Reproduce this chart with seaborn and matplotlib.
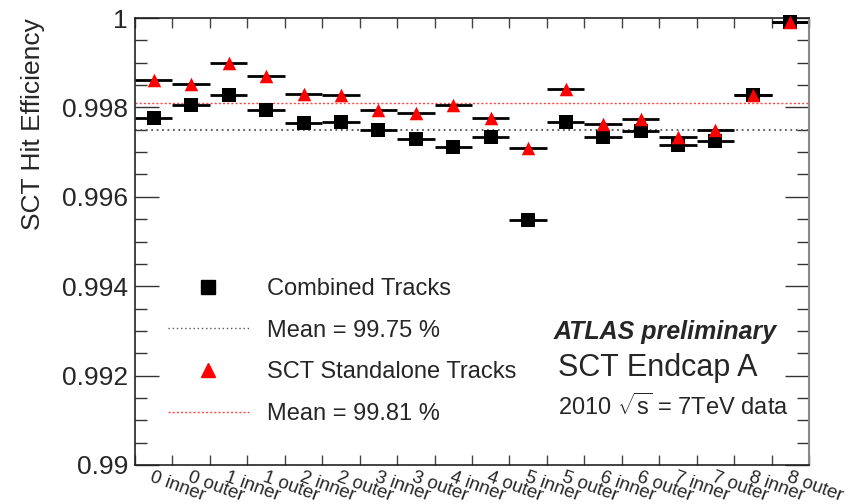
import numpy as np
import pandas as pd
import matplotlib
matplotlib.use("Agg")
import matplotlib.pyplot as plt
import seaborn as sns
from matplotlib.lines import Line2D
from matplotlib.ticker import MultipleLocator, FixedLocator

layers = ["0 inner", "0 outer", "1 inner", "1 outer", "2 inner", "2 outer",
          "3 inner", "3 outer", "4 inner", "4 outer", "5 inner", "5 outer",
          "6 inner", "6 outer", "7 inner", "7 outer", "8 inner", "8 outer"]
combined = [0.99776, 0.99805, 0.99828, 0.99794, 0.99765, 0.99767, 0.99749, 0.99729, 0.99711,
            0.99734, 0.99548, 0.99767, 0.99734, 0.99747, 0.99716, 0.99725, 0.99828, 0.99991]
standalone = [0.99861, 0.99852, 0.99899, 0.99870, 0.99830, 0.99828, 0.99794, 0.99787, 0.99805,
              0.99776, 0.99709, 0.99841, 0.99763, 0.99774, 0.99734, 0.99749, 0.99828, 0.99991]
mean_combined = 0.9975
mean_standalone = 0.9981

sns.set_style("ticks")
plt.rcParams["font.family"] = ["Liberation Sans", "DejaVu Sans"]
plt.rcParams["mathtext.fontset"] = "custom"
plt.rcParams["mathtext.rm"] = "Liberation Sans"

df = pd.DataFrame({"bin": np.arange(len(layers)), "combined": combined, "standalone": standalone})

fig = plt.figure(figsize=(8.46, 5.04), dpi=100)
ax = fig.add_axes([135 / 846, 1 - 465 / 504, 674 / 846, 447 / 504])

ax.axhline(mean_combined, color="#555555", ls=(0, (1, 2)), lw=1.3, zorder=1)
ax.axhline(mean_standalone, color="#ff4444", ls=(0, (1.5, 1.5)), lw=1.0, zorder=1)

# bin-width bars
ax.hlines(df["combined"], df["bin"] - 0.5, df["bin"] + 0.5, color="black", lw=2, zorder=2)
ax.hlines(df["standalone"], df["bin"] - 0.5, df["bin"] + 0.5, color="black", lw=2, zorder=2)

sns.scatterplot(data=df, x="bin", y="combined", marker="s", s=95, color="black",
                linewidth=0, ax=ax, zorder=3, clip_on=False)
sns.scatterplot(data=df, x="bin", y="standalone", marker="^", s=95, color="#ff0000",
                linewidth=0, ax=ax, zorder=4, clip_on=False)

ax.set_xlim(-0.5, len(layers) - 0.5)
ax.set_ylim(0.99, 1.0)

ax.yaxis.set_major_locator(MultipleLocator(0.002))
ax.yaxis.set_minor_locator(MultipleLocator(0.0005))
ax.set_yticklabels([("%g" % v) for v in ax.get_yticks()])
ax.tick_params(axis="y", which="major", direction="in", length=17, width=1, labelsize=19,
               pad=5, right=True, color="#333333")
ax.tick_params(axis="y", which="minor", direction="in", length=8.5, width=1, right=True,
               color="#333333")

ax.xaxis.set_major_locator(FixedLocator(np.arange(-0.5, len(layers), 1.0)))
ax.xaxis.set_major_formatter(plt.NullFormatter())
ax.xaxis.set_minor_locator(FixedLocator(np.arange(len(layers))))
ax.set_xticklabels(layers, minor=True)
ax.tick_params(axis="x", which="major", direction="in", length=7, width=1, top=True,
               color="#444444")
ax.tick_params(axis="x", which="minor", length=0, labelsize=13.5, pad=3)
for lab in ax.get_xticklabels(minor=True):
    lab.set_rotation(-20)
    lab.set_ha("left")
    lab.set_va("top")
    lab.set_rotation_mode("anchor")

for side in ["left", "top", "bottom"]:
    ax.spines[side].set_color("#222222")
    ax.spines[side].set_linewidth(1.2)
ax.spines["right"].set_color("#888888")
ax.spines["right"].set_linewidth(1.5)

ax.set_xlabel("")
ax.set_ylabel("SCT Hit Efficiency", fontsize=19, loc="top", labelpad=12)

handles = [
    Line2D([], [], marker="s", ls="none", color="black", ms=9.5),
    Line2D([], [], color="#555555", ls=(0, (1, 2)), lw=1.0),
    Line2D([], [], marker="^", ls="none", color="#ff0000", ms=10),
    Line2D([], [], color="#ff4444", ls=(0, (1.5, 1.5)), lw=1.0),
]
labels = ["Combined Tracks", "Mean = 99.75 %", "SCT Standalone Tracks", "Mean = 99.81 %"]
ax.legend(handles, labels, loc="upper left", bbox_to_anchor=(168 / 846, 1 - 278 / 504),
          bbox_transform=fig.transFigure, frameon=False, fontsize=17, handlelength=3.43,
          handletextpad=0.76, labelspacing=0.83, borderpad=0, borderaxespad=0)

ax.text(0.9525, 0.2975, "ATLAS preliminary", transform=ax.transAxes, ha="right", va="center",
        fontsize=18, fontweight="bold", fontstyle="italic")
ax.text(0.6276, 0.217, "SCT Endcap A", transform=ax.transAxes, ha="left", va="center",
        fontsize=22)
ax.text(0.6276, 0.1298, r"2010 $\sqrt{\mathrm{s}}$ = 7TeV data", transform=ax.transAxes,
        ha="left", va="center", fontsize=17)

fig.savefig("out.png", dpi=100)
